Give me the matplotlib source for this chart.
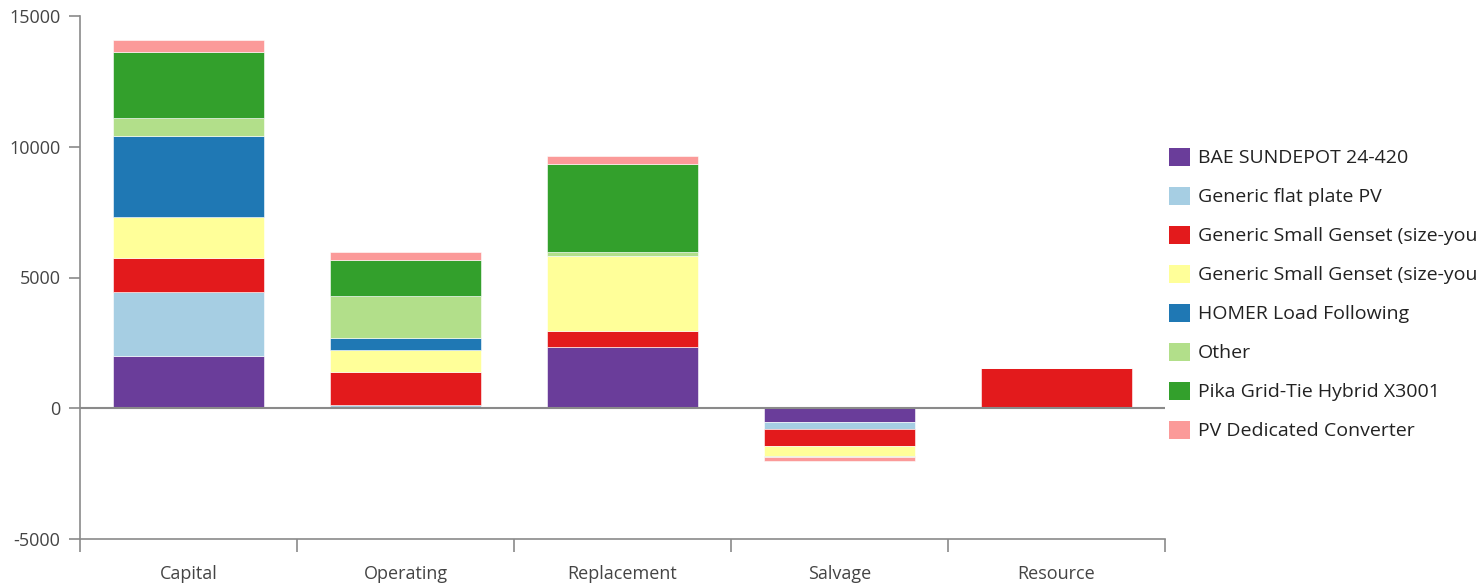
import numpy as np
import matplotlib.pyplot as plt
from matplotlib.patches import Patch

plt.rcParams['font.family'] = ['Open Sans', 'DejaVu Sans']
plt.rcParams['axes.unicode_minus'] = False

categories = ["Capital", "Operating", "Replacement", "Salvage", "Resource"]
components = [
    "BAE SUNDEPOT 24-420",
    "Generic flat plate PV",
    "Generic Small Genset (size-you",
    "Generic Small Genset (size-you",
    "HOMER Load Following",
    "Other",
    "Pika Grid-Tie Hybrid X3001",
    "PV Dedicated Converter",
]
colors = ["#6a3d9a", "#a6cee3", "#e31a1c", "#ffff99",
          "#1f78b4", "#b2df8a", "#33a02c", "#fb9a99"]

# one list per component, one value per category
bae = [2000, 30, 2360, -510, 0]
flat_pv = [2460, 100, 0, -290, 0]
genset_red = [1300, 1250, 610, -640, 1530]
genset_yellow = [1570, 830, 2870, -380, 0]
homer = [3090, 470, 0, 0, 0]
other = [690, 1620, 130, -60, 0]
pika = [2525, 1370, 3380, 0, 0]
pv_conv = [460, 310, 310, -150, 0]
values = np.array([bae, flat_pv, genset_red, genset_yellow, homer, other, pika, pv_conv], dtype=float)

fig = plt.figure(figsize=(14.81, 5.86), dpi=100)
ax = fig.add_axes([80 / 1481, 1 - 539 / 586, (1165 - 80) / 1481, (539 - 16) / 586])

x = np.arange(len(categories))
pos_bottom = np.zeros(len(categories))
neg_bottom = np.zeros(len(categories))
for vals, col in zip(values, colors):
    bottom = np.where(vals >= 0, pos_bottom, neg_bottom)
    ax.bar(x, vals, 0.7, bottom=bottom, color=col, edgecolor="white", linewidth=0.4)
    pos_bottom += np.where(vals >= 0, vals, 0)
    neg_bottom += np.where(vals < 0, vals, 0)

ax.axhline(0, color="#8a8a8a", linewidth=1.5)

ax.set_xlim(-0.5, len(categories) - 0.5)
ax.set_ylim(-5000, 15000)
ax.set_yticks([-5000, 0, 5000, 10000, 15000])

ax.set_xticks(np.arange(-0.5, len(categories)), labels=[""] * (len(categories) + 1))
ax.set_xticks(x, labels=categories, minor=True)
ax.tick_params(axis="x", which="major", length=9, width=1.2, color="#8a8a8a")
ax.tick_params(axis="x", which="minor", length=0, pad=19, labelsize=13, labelcolor="#444444")
ax.tick_params(axis="y", length=8, width=1.2, color="#8a8a8a", pad=6,
               labelsize=13, labelcolor="#444444")

for side in ["top", "right"]:
    ax.spines[side].set_visible(False)
for side in ["left", "bottom"]:
    ax.spines[side].set_color("#8a8a8a")
    ax.spines[side].set_linewidth(1.2)

handles = [Patch(facecolor=c, edgecolor="none") for c in colors]
fig.legend(handles, components, loc="upper left",
           bbox_to_anchor=(1151 / 1481, 1 - 130 / 586),
           frameon=False, fontsize=14, handlelength=1.1, handleheight=1.1,
           handletextpad=0.4, labelspacing=0.98, labelcolor="#222222")

fig.savefig("out.png", dpi=100)
